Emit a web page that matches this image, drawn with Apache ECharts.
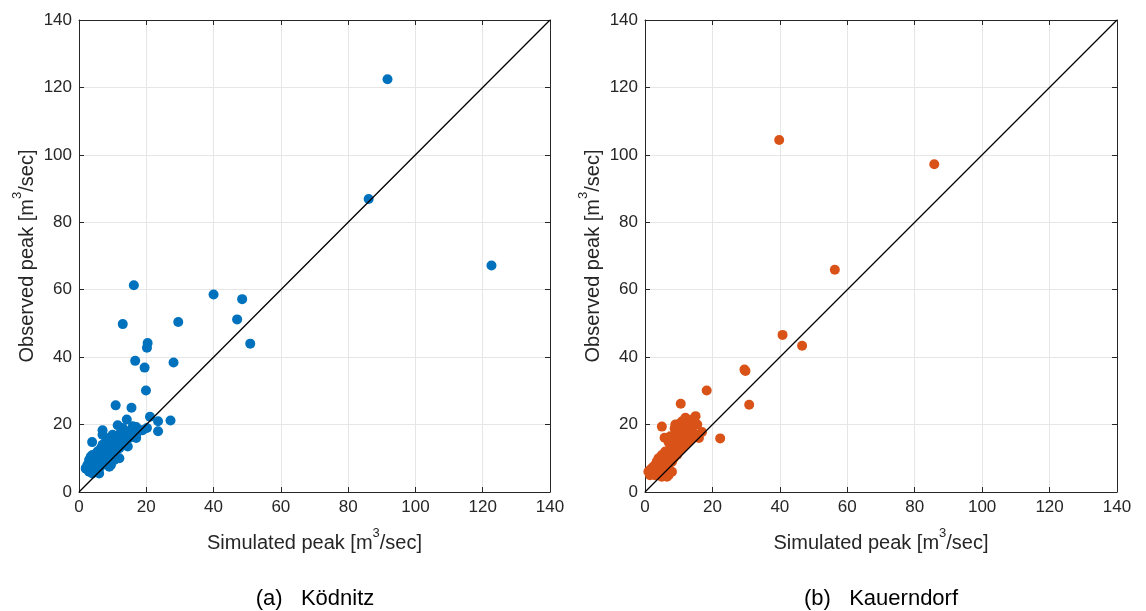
<!DOCTYPE html>
<html>
<head>
<meta charset="utf-8">
<script src="https://cdn.jsdelivr.net/npm/echarts@6/dist/echarts.min.js"></script>
<style>
html,body{margin:0;padding:0;background:#fff;}
#chart{width:1146px;height:611px;}
</style>
</head>
<body>
<div id="chart"></div>
<script>
// Ticks
const tickValues = [0, 20, 40, 60, 80, 100, 120, 140];
const diagonal = [[0, 0], [140, 140]];
const titleA = '(a)   Ködnitz';
const titleB = '(b)   Kauerndorf';
const xNameParts = ['Simulated peak [m', '3', '/sec]'];
const yNameParts = ['Observed peak [m', '3', '/sec]'];

// Ködnitz [simulated, observed]
const koednitz = [
  [2,7],[2.5,8],[3,9.5],[3,6],[3.5,10.5],[4,5.5],[4,8],[4,11],[4.5,9],[5,6],[5,7.5],[5,10],
  [5.5,12],[6,7],[6,9],[6,11],[6.5,13],[7,8],[7,10],[7,14],[7,17],[7.5,12],[8,9],[8,11],
  [8,15],[8.5,13],[9,10],[9,12],[9,16],[9.5,8],[10,11],[10,13],[10,15],[10,17],[10.5,9.5],
  [11,12],[11,14],[11,16],[11.5,19.8],[12,13],[12,15],[12,17],[12.5,18.5],[13,14],[13,16],
  [13,19],[14,15],[14,17],[14.2,21.5],[14.5,13.5],[15,16],[15,18],[16,17],[16,19.5],[17,16],
  [17,19.3],[18,18.4],[18.9,18.3],[20.2,19],[7,18.3],[3.9,14.8],[2.1,6.9],[9,7.5],[6,5.5],
  [10.9,25.7],[15.6,25],[21.1,22.3],[23.5,21],[23.5,18],[27.2,21.2],[17.5,17.9],[12,10],
  [19.9,30.1],[19.5,36.9],[16.7,38.9],[28.1,38.4],[20.2,42.8],[20.4,44.2],[13,49.8],
  [29.5,50.4],[47,51.2],[50.9,44],[48.5,57.2],[40,58.6],[16.3,61.3],[86.1,86.9],
  [91.7,122.4],[122.6,67.2]
];

// Kauerndorf [simulated, observed]
const kauerndorf = [
  [1,6],[1.5,6.5],[2,7],[2.5,7.5],[3,5],[3,8],[3.5,9],[4,6],[4,10],[4.5,7],[5,4.5],[5,8],
  [5,11],[5,19.4],[5.5,9.5],[5.8,16.1],[6,5.5],[6,7],[6,10],[6,12],[6.5,4.5],[7,8],[7,11],
  [7,14.8],[7.5,13],[8,9],[8,12],[8,15],[8.5,10],[8.8,18.8],[9,13],[9,16],[9.5,11],[10,12],
  [10,14],[10,17],[10.6,20.5],[10.6,26.2],[11,13],[11,15],[11.4,15.2],[12,14],[12,17],
  [12.5,19],[13,15],[13.4,21],[14,16],[14,18],[15,22.5],[15,17],[16,16],[16.9,17.8],
  [9,14.5],[12,19.5],[7,5],[8,6],[1.5,5],[3.2,5],[6.5,7.5],[9,20],[11,21],[12,22],
  [14,21.5],[13.5,19.5],[10,19],[15.5,20],[7.5,16.5],
  [18.3,30.1],[29.8,35.9],[29.5,36.3],[30.9,25.9],[22.3,15.9],[40.8,46.6],[46.6,43.4],
  [56.3,65.9],[39.8,104.4],[85.8,97.2]
];

const FONT = 'Liberation Sans, Arial, sans-serif';
const TXT = '#262626';
const grids = [
  {left: 79, top: 20, width: 471, height: 472},
  {left: 645, top: 20, width: 472, height: 472}
];
const nameRich = {
  n: {fontFamily: FONT, fontSize: 20, color: TXT, lineHeight: 26, verticalAlign: 'bottom'},
  s: {fontFamily: FONT, fontSize: 13, color: TXT, lineHeight: 26, verticalAlign: 'top'}
};
function richName(p) { return '{n|' + p[0] + '}{s|' + p[1] + '}{n|' + p[2] + '}'; }

function mkX(gi, pos, show) {
  return {
    type: 'value', gridIndex: gi, min: 0, max: 140, interval: 20, position: pos,
    name: show ? richName(xNameParts) : '', nameLocation: 'middle', nameGap: 35,
    nameTextStyle: {rich: nameRich},
    axisLine: {show: true, onZero: false, lineStyle: {color: TXT, width: 1}},
    axisTick: {show: true, inside: true, length: 5, lineStyle: {color: TXT}},
    axisLabel: {show: show, fontFamily: FONT, fontSize: 17, color: TXT, margin: 7},
    splitLine: {show: show, lineStyle: {color: '#e6e6e6', width: 1}}
  };
}
function mkY(gi, pos, show) {
  return {
    type: 'value', gridIndex: gi, min: 0, max: 140, interval: 20, position: pos,
    name: show ? richName(yNameParts) : '', nameLocation: 'middle', nameGap: 42, nameRotate: 90,
    nameTextStyle: {rich: nameRich},
    axisLine: {show: true, onZero: false, lineStyle: {color: TXT, width: 1}},
    axisTick: {show: true, inside: true, length: 5, lineStyle: {color: TXT}},
    axisLabel: {show: show, fontFamily: FONT, fontSize: 17, color: TXT, margin: 7},
    splitLine: {show: show, lineStyle: {color: '#e6e6e6', width: 1}}
  };
}

const chart = echarts.init(document.getElementById('chart'), null, {renderer: 'canvas'});
chart.setOption({
  backgroundColor: '#fff',
  animation: false,
  title: [
    {text: titleA, left: 310, top: 583, textAlign: 'center', textStyle: {fontFamily: FONT, fontSize: 22, fontWeight: 'normal', color: '#000'}},
    {text: titleB, left: 876, top: 583, textAlign: 'center', textStyle: {fontFamily: FONT, fontSize: 22, fontWeight: 'normal', color: '#000'}}
  ],
  grid: grids,
  xAxis: [mkX(0, 'bottom', true), mkX(0, 'top', false), mkX(1, 'bottom', true), mkX(1, 'top', false)],
  yAxis: [mkY(0, 'left', true), mkY(0, 'right', false), mkY(1, 'left', true), mkY(1, 'right', false)],
  series: [
    {type: 'line', xAxisIndex: 0, yAxisIndex: 0, data: diagonal, symbol: 'none', lineStyle: {color: '#000', width: 1.3}, z: 3},
    {type: 'scatter', xAxisIndex: 0, yAxisIndex: 0, data: koednitz, symbolSize: 10, itemStyle: {color: '#0072BD', opacity: 1}, z: 2},
    {type: 'line', xAxisIndex: 2, yAxisIndex: 2, data: diagonal, symbol: 'none', lineStyle: {color: '#000', width: 1.3}, z: 3},
    {type: 'scatter', xAxisIndex: 2, yAxisIndex: 2, data: kauerndorf, symbolSize: 10, itemStyle: {color: '#D95319', opacity: 1}, z: 2}
  ]
});
</script>
</body>
</html>
